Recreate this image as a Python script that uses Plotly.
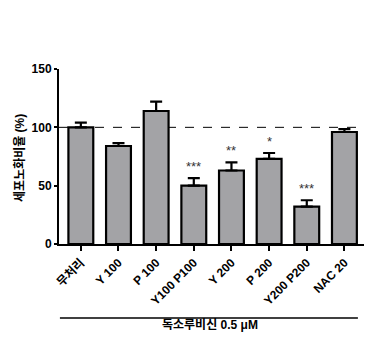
import plotly.graph_objects as go

categories = ["무처리", "Y 100", "P 100", "Y100 P100", "Y 200", "P 200", "Y200 P200", "NAC 20"]
means = [100, 84, 114, 50, 63, 73, 32, 96]
sem = [4, 2.5, 8, 6.5, 7, 5, 5.5, 2.5]
stars = ["", "", "", "***", "**", "*", "***", ""]
y_ticks = [0, 50, 100, 150]
reference_level = 100
group_label = "독소루비신 0.5 μM"
y_title = "세포노화비율 (%)"

FONT = "Liberation Sans, Arial, Noto Sans CJK KR"
x = list(range(len(categories)))

fig = go.Figure()
fig.add_trace(go.Bar(
    x=x, y=means, width=0.66,
    marker=dict(color="#a3a3a6", line=dict(color="black", width=2.2)),
    error_y=dict(type="data", array=sem, arrayminus=[0]*len(sem), symmetric=False,
                 color="black", thickness=2.2, width=6),
))

for xi, m, s, st in zip(x, means, sem, stars):
    if st:
        fig.add_annotation(x=xi, y=m + s, text=st, showarrow=False, yanchor="bottom",
                           yshift=2, font=dict(family=FONT, size=13, color="#333333"))

fig.add_shape(type="line", xref="paper", yref="y", x0=0, x1=0.985,
              y0=reference_level, y1=reference_level, layer="below",
              line=dict(color="black", width=1, dash="dash"))

fig.add_shape(type="line", xref="paper", yref="paper", x0=0.003, x1=0.98,
              y0=-0.423, y1=-0.423, line=dict(color="black", width=1.5))
fig.add_annotation(xref="paper", yref="paper", x=0.495, y=-0.515, text=f"<b>{group_label}</b>",
                   showarrow=False, font=dict(family=FONT, size=12, color="black"))
fig.add_annotation(xref="paper", yref="paper", x=-0.16, y=0.49, text=f"<b>{y_title}</b>", textangle=-90,
                   showarrow=False, font=dict(family=FONT, size=12, color="black"))

fig.update_layout(
    width=379, height=355, margin=dict(l=59, r=15, t=69, b=111, autoexpand=False),
    paper_bgcolor="white", plot_bgcolor="white", showlegend=False,
    font=dict(family=FONT, color="black"),
    xaxis=dict(range=[-0.58, 7.52], tickmode="array", tickvals=x, ticktext=[f"<b>{c}</b>" for c in categories],
               tickangle=-45, ticks="outside", ticklen=5, tickwidth=2, tickcolor="black",
               showline=True, linecolor="black", linewidth=2, showgrid=False, zeroline=False,
               automargin=False, tickfont=dict(family=FONT, size=12, color="black")),
    yaxis=dict(range=[0, 150], tickmode="array", tickvals=y_ticks, ticktext=[f"<b>{t}</b>" for t in y_ticks],
               ticks="outside", ticklen=3, tickwidth=2, tickcolor="black",
               showline=True, linecolor="black", linewidth=2, showgrid=False, zeroline=False,
               automargin=False, tickfont=dict(family=FONT, size=12, color="black")),
)

fig.write_html("out.html", config={"displayModeBar": False},
               post_script="document.body.style.margin='0';document.body.style.overflow='hidden';")
